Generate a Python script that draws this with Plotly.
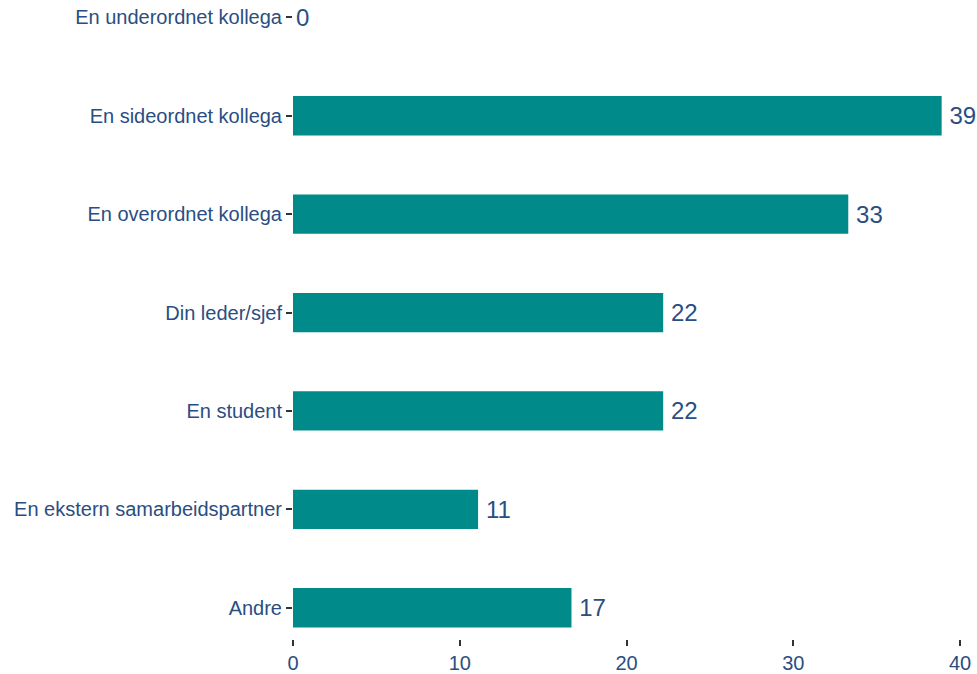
import plotly.graph_objects as go

# categories listed top to bottom as in the chart
categories = [
    "En underordnet kollega",
    "En sideordnet kollega",
    "En overordnet kollega",
    "Din leder/sjef",
    "En student",
    "En ekstern samarbeidspartner",
    "Andre",
]
percent = [0, 38.9, 33.3, 22.2, 22.2, 11.1, 16.7]
x_ticks = [0, 10, 20, 30, 40]

text_color = "#2a4e82"
bar_color = "#008B8A"

# plot bottom-up so the first category ends up on top
cats = categories[::-1]
vals = percent[::-1]
# thin space pushes the label a little off the bar end (not needed for the empty bar)
labels = [("\u2009" if v > 0 else "") + f"{v:.0f}" for v in vals]

fig = go.Figure(data=[go.Bar(
    x=vals,
    y=cats,
    orientation="h",
    width=0.4,
    marker_color=bar_color,
    marker_line_width=0,
    text=labels,
    textposition="outside",
    textfont=dict(size=24, color=text_color, family="Liberation Sans, Arial"),
    cliponaxis=False,
)])

fig.update_layout(
    width=977,
    height=674,
    paper_bgcolor="white",
    plot_bgcolor="white",
    margin=dict(t=0, l=293, r=17, b=31),
    showlegend=False,
    font=dict(family="Liberation Sans, Arial", color=text_color),
    xaxis=dict(
        range=[0, 40],
        tickvals=x_ticks,
        ticks="outside",
        ticklen=6,
        tickwidth=2,
        tickcolor="#333333",
        showgrid=False,
        zeroline=False,
        showline=False,
        tickfont=dict(size=20, color=text_color),
    ),
    yaxis=dict(
        type="category",
        categoryorder="array",
        categoryarray=cats,
        range=[-0.318, 6.177],
        ticks="outside",
        ticklen=6,
        tickwidth=2,
        tickcolor="#333333",
        showgrid=False,
        zeroline=False,
        showline=False,
        tickfont=dict(size=20, color=text_color),
    ),
)

# drop the default page margin so the figure sits at the window's corner
fig.write_html(
    "out.html",
    config={"displayModeBar": False},
    post_script="document.body.style.margin='0';",
)
